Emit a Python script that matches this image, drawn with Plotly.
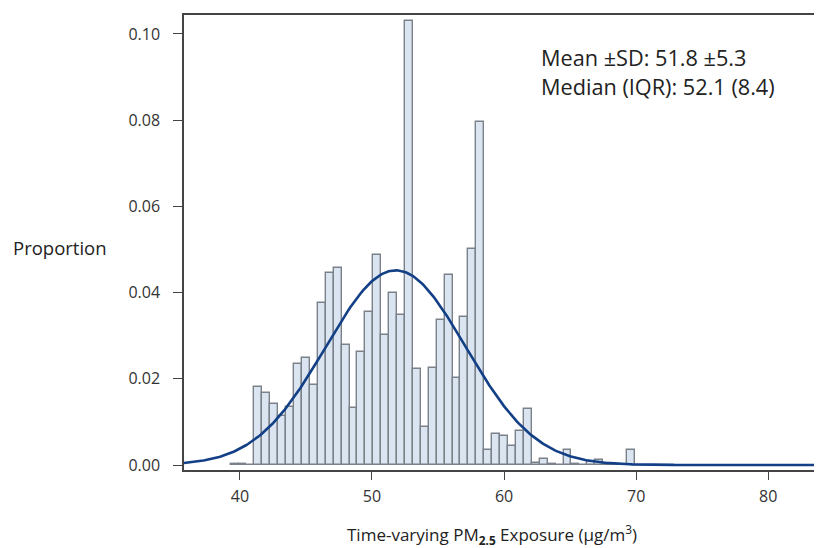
import numpy as np
import plotly.graph_objects as go

# ---- data ----
BIN_START = 39.3
BIN_WIDTH = 0.6
proportions = [
    0.0002, 0.0002, 0.0,
    0.0182, 0.0166, 0.0141, 0.0114, 0.0135, 0.0234, 0.0248, 0.0186,
    0.0375, 0.0445, 0.0456, 0.0278, 0.0132, 0.0263, 0.0354, 0.0488,
    0.0302, 0.0398, 0.0348, 0.1031, 0.0223, 0.0089, 0.0226, 0.0336,
    0.0440, 0.0203, 0.0344, 0.0501, 0.0795, 0.0035, 0.0072, 0.0068,
    0.0045, 0.0080, 0.0129, 0.0004, 0.0015, 0.0003, 0.0, 0.0034,
    0.0002, 0.0, 0.0008, 0.0012, 0.0, 0.0, 0.0, 0.0035,
]
MEAN = 51.8
SD = 5.3
MEDIAN = 52.1
IQR = 8.4
x_ticks = [40, 50, 60, 70, 80]
y_ticks = [0.00, 0.02, 0.04, 0.06, 0.08, 0.10]

centers = [BIN_START + BIN_WIDTH * (i + 0.5) for i in range(len(proportions))]

X_RANGE = [35.77, 84.07]
Y_RANGE = [-0.00116, 0.1044]

xc = np.linspace(X_RANGE[0], X_RANGE[1], 400)
yc = BIN_WIDTH * np.exp(-0.5 * ((xc - MEAN) / SD) ** 2) / (SD * np.sqrt(2 * np.pi))

FONT = "Open Sans"

fig = go.Figure()
fig.add_trace(go.Bar(
    x=centers, y=proportions, width=BIN_WIDTH,
    marker=dict(color="#dbe5f1", line=dict(color="#7a8189", width=1.4)),
    hoverinfo="skip",
))
fig.add_trace(go.Scatter(
    x=xc, y=yc, mode="lines",
    line=dict(color="#123f86", width=2.6),
    hoverinfo="skip",
))

# page body has an 8px margin, so the figure is shifted to compensate
fig.update_layout(
    width=814, height=540,
    margin=dict(l=176, r=0, t=7, b=78),
    paper_bgcolor="white", plot_bgcolor="white",
    showlegend=False, bargap=0,
    font=dict(family=FONT, size=16, color="#333333"),
)
fig.update_xaxes(
    range=X_RANGE, tickvals=x_ticks, ticktext=[str(v) for v in x_ticks],
    showgrid=False, zeroline=False,
    showline=True, linecolor="#444444", linewidth=1.5, mirror=True,
    ticks="outside", ticklen=8, tickcolor="#444444", tickwidth=1.2,
    ticklabelstandoff=3,
    tickfont=dict(family=FONT, size=16, color="#333333"),
)
fig.update_yaxes(
    range=Y_RANGE, tickvals=y_ticks, ticktext=[f"{v:.2f}" for v in y_ticks],
    showgrid=False, zeroline=False,
    showline=True, linecolor="#444444", linewidth=1.5, mirror=False,
    ticks="outside", ticklen=9, tickcolor="#444444", tickwidth=1.2,
    ticklabelstandoff=10,
    tickfont=dict(family=FONT, size=16, color="#333333"),
)

fig.add_annotation(
    xref="paper", yref="paper", x=-0.271, y=0.490, xanchor="left", yanchor="middle",
    text="Proportion", showarrow=False,
    font=dict(family=FONT, size=18.5, color="#222222"),
)
fig.add_annotation(
    xref="paper", yref="paper", x=0.4828, y=-0.142, xanchor="center", yanchor="middle",
    text="Time-varying PM<sub><b>2.5</b></sub> Exposure (\u00b5g/m<sup>3</sup>)", showarrow=False,
    font=dict(family=FONT, size=17, color="#222222"),
)
fig.add_annotation(
    xref="paper", yref="paper", x=0.5565, y=0.9055, xanchor="left", yanchor="middle",
    text=f"Mean \u00b1SD: {MEAN} \u00b1{SD}", showarrow=False,
    font=dict(family=FONT, size=21.7, color="#222222"),
)
fig.add_annotation(
    xref="paper", yref="paper", x=0.5565, y=0.8418, xanchor="left", yanchor="middle",
    text=f"Median (IQR): {MEDIAN} ({IQR})", showarrow=False,
    font=dict(family=FONT, size=21.7, color="#222222"),
)

fig.write_html("out.html")
